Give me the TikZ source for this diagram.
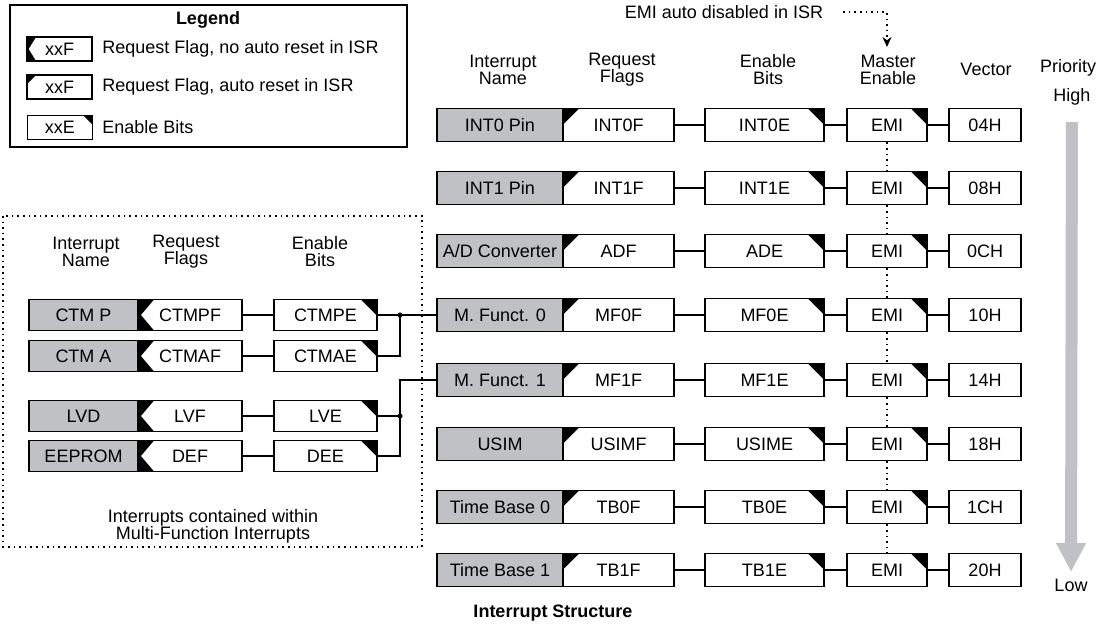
\documentclass[tikz,border=0pt]{standalone}
\usepackage{fontspec}
\setmainfont{Liberation Sans}
\usetikzlibrary{arrows.meta}

\definecolor{boxgray}{RGB}{192,193,197}

\tikzset{
    box/.style = {shape=rectangle, draw, line width=0.8pt, inner sep=0pt,
        minimum height=16.5pt, fill=white},
    namebox/.style = {box, fill=boxgray},
    % flag that the ISR does not clear
    flagbox/.style = {box, path picture={
        \fill[black] (path picture bounding box.north west) -- ++(#1,0)
            -- ([xshift=0.18*#1]path picture bounding box.west)
            -- ([xshift=#1]path picture bounding box.south west)
            -- (path picture bounding box.south west) -- cycle;}},
    flagbox/.default = 8pt,
    % flag cleared on entry to the ISR
    autobox/.style = {box, path picture={
        \fill[black] (path picture bounding box.north west) -- ++(#1,0) -- ++(-#1,-#1) -- cycle;}},
    autobox/.default = 8pt,
    enbox/.style = {box, path picture={
        \fill[black] (path picture bounding box.north east) -- ++(-#1,0) -- ++(#1,-#1) -- cycle;}},
    enbox/.default = 8pt,
    head/.style = {align=center, inner sep=0pt},
    boldtxt/.style = {font=\fontsize{9}{8.5}\selectfont\bfseries},
    wire/.style = {line width=0.8pt},
}

\begin{document}
\begin{tikzpicture}[x=0.5pt, y=-0.5pt, font=\fontsize{9}{8.5}\selectfont]
    \useasboundingbox (0,0) rectangle (1104,634);

    % legend
    \draw[line width=0.6pt] (10,5) rectangle (407,147);
    \node[boldtxt] (legend) at (208,20) {Legend};
    \node[flagbox=4.5pt, minimum width=32.5pt, minimum height=12pt] (lg1) at (59.5,49) {xxF};
    \node[autobox=4.5pt, minimum width=32.5pt, minimum height=12pt] (lg2) at (59.5,87) {xxF};
    \node[enbox=4.5pt, minimum width=32.5pt, minimum height=12pt] (lg3) at (60,127.5) {xxE};
    \node[anchor=west, inner sep=0pt] (lt1) at (102,49) {Request Flag, no auto reset in ISR};
    \node[anchor=west, inner sep=0pt] (lt2) at (102,87) {Request Flag, auto reset in ISR};
    \node[anchor=west, inner sep=0pt] (lt3) at (102,127.5) {Enable Bits};

    % main interrupts
    \node[head] (hname) at (503,69.5) {Interrupt\\Name};
    \node[head] (hflag) at (622,69.5) {Request\\Flags};
    \node[head] (hen) at (768,69.5) {Enable\\Bits};
    \node[head] (hmaster) at (888,69.5) {Master\\Enable};
    \node[head] (hvec) at (986,69) {Vector};

    \foreach \i/\y/\nm/\fl/\en/\vc in {1/125/INT0 Pin/INT0F/INT0E/04H, 2/188/INT1 Pin/INT1F/INT1E/08H,
        3/251/{A/D Converter}/ADF/ADE/0CH, 4/315/M. Funct. 0/MF0F/MF0E/10H,
        5/380/M. Funct. 1/MF1F/MF1E/14H, 6/444/USIM/USIMF/USIME/18H,
        7/507/Time Base 0/TB0F/TB0E/1CH, 8/570/Time Base 1/TB1F/TB1E/20H}
    {
        \node[namebox, minimum width=63pt] (n\i) at (500,\y) {\nm};
        \node[autobox, minimum width=55.5pt] (f\i) at (618.5,\y) {\fl};
        \node[enbox, minimum width=59.5pt] (e\i) at (764.5,\y) {\en};
        \node[enbox, minimum width=40pt] (m\i) at (887,\y) {EMI};
        \node[box, minimum width=36pt] (v\i) at (985,\y) {\vc};
        \draw[wire] (f\i) -- (e\i) (e\i) -- (m\i) (m\i) -- (v\i);
    }

    \node (eminote) at (724,12) {EMI auto disabled in ISR};
    \coordinate (emitip) at (887,47);
    \draw[wire, dotted, -{Stealth[length=5pt,width=4.5pt]}] ([xshift=6.5pt]eminote.east) -| (emitip);
    \foreach \i [evaluate=\i as \j using int(\i+1)] in {1,...,7}
        \draw[wire, dotted] (m\i) -- (m\j);

    % priority
    \node (hprio) at (1068,68) {Priority};
    \node (high) at (1072,97) {High};
    \node (low) at (1071,585) {Low};
    \draw[boxgray, line width=6pt, -{Triangle[width=14pt,length=14.5pt]},
        shorten <=12.5pt, shorten >=6.5pt] (high.center) -- (low.center);

    % multi-function sources
    \draw[wire, dotted] (3,216) rectangle (422,547);
    \node[head] (lhname) at (86,251.5) {Interrupt\\Name};
    \node[head] (lhflag) at (186,251.5) {Request\\Flags};
    \node[head] (lhen) at (320,251.5) {Enable\\Bits};
    \foreach \i/\y/\nm/\fl/\en in {1/315/CTM P/CTMPF/CTMPE, 2/356/CTM A/CTMAF/CTMAE,
        3/416/LVD/LVF/LVE, 4/456/EEPROM/DEF/DEE}
    {
        \node[namebox, minimum width=54.5pt, minimum height=15.5pt] (ln\i) at (83.5,\y) {\nm};
        \node[flagbox, minimum width=52pt, minimum height=15.5pt] (lf\i) at (190,\y) {\fl};
        \node[enbox, minimum width=51.5pt, minimum height=15.5pt] (le\i) at (325.5,\y) {\en};
        \draw[wire] (lf\i) -- (le\i);
    }
    \node[head] (lnote) at (213,526) {Interrupts contained within\\Multi-Function Interrupts};

    \coordinate (j1) at (400,315);
    \coordinate (j2) at (400,416);
    \draw[wire] (le1) -- (j1) -- (n4) (le2) -| (j1) (le3) -- (j2) (le4) -| (j2) (j2) |- (n5);
    \fill (j1) circle (1.3pt);
    \fill (j2) circle (1.3pt);

    \node[boldtxt] (title) at (553,613) {Interrupt Structure};
\end{tikzpicture}
\end{document}
